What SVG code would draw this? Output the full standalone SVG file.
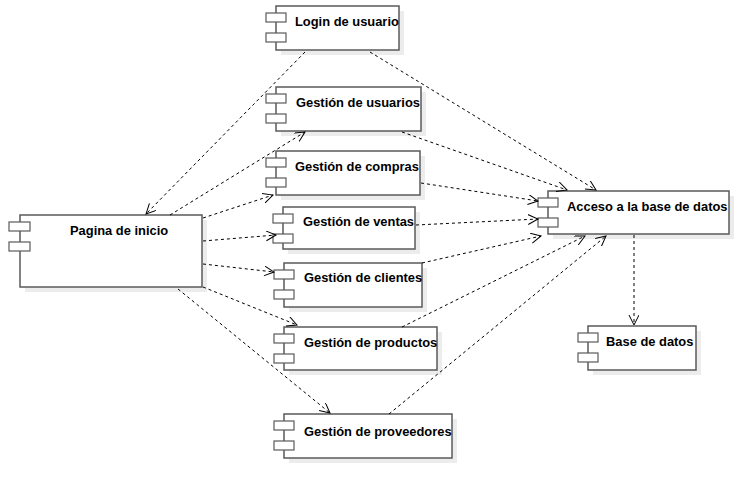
<svg xmlns="http://www.w3.org/2000/svg" width="748" height="480" viewBox="0 0 748 480">
<style>
.box{fill:#fff;stroke:#5a5a5a;stroke-width:1.5}
.sh{fill:#ececec}
.port{fill:#fff;stroke:#5a5a5a;stroke-width:1.2}
.t{font-family:"Liberation Sans",Arial,sans-serif;font-size:12.9px;font-weight:bold;fill:#000}
.c{fill:none;stroke:#000;stroke-width:1;stroke-dasharray:3,3}
</style>
<defs>
<marker id="a" markerWidth="12" markerHeight="12" refX="10" refY="5" orient="auto" markerUnits="userSpaceOnUse">
<path d="M0,0 L10,5 L0,10" fill="none" stroke="#000" stroke-width="1"/>
</marker>
</defs>
<rect width="748" height="480" fill="#fff"/>
<g id="login">
<rect class="sh" x="281" y="11" width="123" height="44"/>
<rect class="box" x="276" y="6" width="123" height="44"/>
<rect class="port" x="266" y="13" width="20" height="9"/>
<rect class="port" x="266" y="33" width="20" height="9"/>
<text class="t" x="295" y="26">Login de usuario</text>
</g>
<g id="pagina">
<rect class="sh" x="25" y="220" width="182" height="72"/>
<rect class="box" x="20" y="215" width="182" height="72"/>
<rect class="port" x="9" y="222" width="21" height="9"/>
<rect class="port" x="9" y="242" width="21" height="9"/>
<text class="t" x="70" y="235">Pagina de inicio</text>
</g>
<g id="usuarios">
<rect class="sh" x="281" y="92" width="145" height="44"/>
<rect class="box" x="276" y="87" width="145" height="44"/>
<rect class="port" x="266" y="94" width="20" height="9"/>
<rect class="port" x="266" y="114" width="20" height="9"/>
<text class="t" x="296" y="107">Gestión de usuarios</text>
</g>
<g id="compras">
<rect class="sh" x="281" y="156" width="144" height="44"/>
<rect class="box" x="276" y="151" width="144" height="44"/>
<rect class="port" x="266" y="158" width="20" height="9"/>
<rect class="port" x="266" y="178" width="20" height="9"/>
<text class="t" x="295" y="171">Gestión de compras</text>
</g>
<g id="ventas">
<rect class="sh" x="288" y="212" width="132" height="42"/>
<rect class="box" x="283" y="207" width="132" height="42"/>
<rect class="port" x="273" y="214" width="20" height="9"/>
<rect class="port" x="273" y="234" width="20" height="9"/>
<text class="t" x="303" y="226">Gestión de ventas</text>
</g>
<g id="clientes">
<rect class="sh" x="289" y="268" width="138" height="44"/>
<rect class="box" x="284" y="263" width="138" height="44"/>
<rect class="port" x="274" y="270" width="20" height="9"/>
<rect class="port" x="274" y="290" width="20" height="9"/>
<text class="t" x="304" y="282">Gestión de clientes</text>
</g>
<g id="productos">
<rect class="sh" x="289" y="332" width="153" height="43"/>
<rect class="box" x="284" y="327" width="153" height="43"/>
<rect class="port" x="274" y="334" width="20" height="9"/>
<rect class="port" x="274" y="354" width="20" height="9"/>
<text class="t" x="304" y="347">Gestión de productos</text>
</g>
<g id="proveedores">
<rect class="sh" x="289" y="419" width="168" height="44"/>
<rect class="box" x="284" y="414" width="168" height="44"/>
<rect class="port" x="274" y="421" width="20" height="9"/>
<rect class="port" x="274" y="441" width="20" height="9"/>
<text class="t" x="304" y="436">Gestión de proveedores</text>
</g>
<g id="acceso">
<rect class="sh" x="553" y="196" width="181" height="43"/>
<rect class="box" x="548" y="191" width="181" height="43"/>
<rect class="port" x="538" y="198" width="20" height="9"/>
<rect class="port" x="538" y="218" width="20" height="9"/>
<text class="t" x="567" y="211">Acceso a la base de datos</text>
</g>
<g id="base">
<rect class="sh" x="593" y="331" width="108" height="44"/>
<rect class="box" x="588" y="326" width="108" height="44"/>
<rect class="port" x="578" y="333" width="20" height="9"/>
<rect class="port" x="578" y="353" width="20" height="9"/>
<text class="t" x="606" y="346">Base de datos</text>
</g>
<g id="connectors">
<line class="c" x1="305" y1="52" x2="146" y2="214" marker-end="url(#a)"/>
<line class="c" x1="370" y1="52" x2="596" y2="190" marker-end="url(#a)"/>
<line class="c" x1="170" y1="215" x2="305" y2="132" marker-end="url(#a)"/>
<line class="c" x1="203" y1="218" x2="273" y2="195" marker-end="url(#a)"/>
<line class="c" x1="203" y1="241" x2="276" y2="235" marker-end="url(#a)"/>
<line class="c" x1="203" y1="264" x2="274" y2="272" marker-end="url(#a)"/>
<line class="c" x1="203" y1="287" x2="297" y2="325" marker-end="url(#a)"/>
<line class="c" x1="178" y1="289" x2="330" y2="413" marker-end="url(#a)"/>
<line class="c" x1="402" y1="132" x2="567" y2="190" marker-end="url(#a)"/>
<line class="c" x1="421" y1="183" x2="538" y2="201" marker-end="url(#a)"/>
<line class="c" x1="416" y1="225" x2="538" y2="219" marker-end="url(#a)"/>
<line class="c" x1="422" y1="263" x2="541" y2="236" marker-end="url(#a)"/>
<line class="c" x1="402" y1="327" x2="585" y2="236" marker-end="url(#a)"/>
<line class="c" x1="389" y1="414" x2="606" y2="236" marker-end="url(#a)"/>
<line class="c" x1="634" y1="235" x2="634" y2="325" marker-end="url(#a)"/>
</g>
</svg>
